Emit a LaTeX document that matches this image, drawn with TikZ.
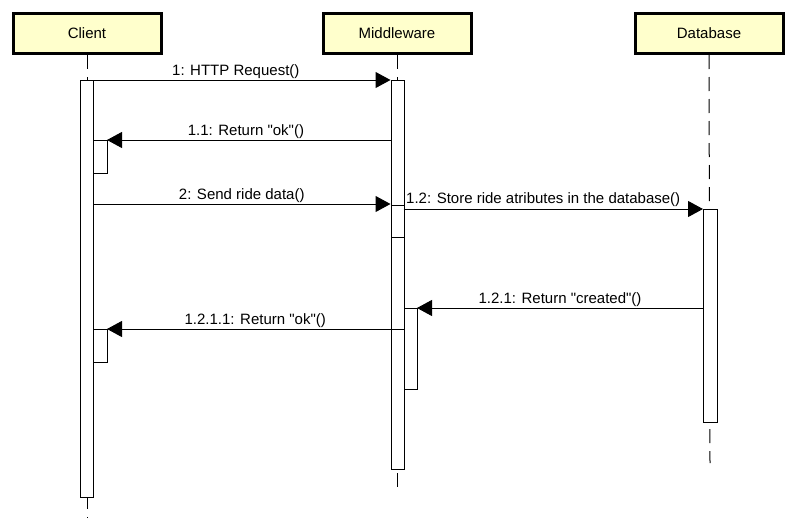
\documentclass[tikz,border=0pt]{standalone}
\usepackage{fontspec}
\setmainfont{Liberation Sans}
\usetikzlibrary{arrows.meta}
\definecolor{hdr}{HTML}{FFFFCC}
\begin{document}
\begin{tikzpicture}[x=1pt,y=-1pt,
  every node/.style={font=\fontsize{15}{17}\selectfont},
  head/.style={draw, line width=3pt, fill=hdr, minimum width=148pt, minimum height=40pt, inner sep=0pt},
  act/.style={draw, line width=1pt, fill=white, inner sep=0pt, anchor=north west},
  life/.style={line width=1pt, dash pattern=on 14pt off 8pt},
  msg/.style={line width=1pt, -{Triangle[length=15pt,width=16pt]}},
  lbl/.style={inner sep=1pt, anchor=south}]
\useasboundingbox (0,0) rectangle (796,530);
% headers
\node[head] (client) at (87,33.5) {Client};
\node[head] (mid) at (397,33.5) {Middleware};
\node[head] (db) at (709,33.5) {Database};
% lifeline ends
\coordinate (cend) at (87,518);
\coordinate (mend) at (397,490);
\coordinate (dend) at (710,463);
\draw[life] (client.south) -- (cend);
\draw[life] (mid.south) -- (mend);
\draw[life] (db.south |- client.south) -- (dend);
% activations
\node[act, minimum width=13pt, minimum height=417pt] (ca) at (80,80) {};
\node[act, minimum width=14pt, minimum height=33pt] (cb1) at (93,140) {};
\node[act, minimum width=14pt, minimum height=33pt] (cb2) at (93,329) {};
\node[act, minimum width=13pt, minimum height=389pt] (ma) at (390.5,80) {};
\node[act, minimum width=13pt, minimum height=32pt] (mb) at (390.5,205) {};
\node[act, minimum width=13pt, minimum height=81pt] (mc) at (403.5,308) {};
\node[act, minimum width=14pt, minimum height=213pt] (da) at (703,209) {};
% message end points
\coordinate (m1s) at (93,80);   \coordinate (m1e) at (390.5,80);
\coordinate (m2s) at (390.5,140); \coordinate (m2e) at (107,140);
\coordinate (m3s) at (93,204);  \coordinate (m3e) at (390.5,204);
\coordinate (m4s) at (403.5,209); \coordinate (m4e) at (703,209);
\coordinate (m5s) at (703,308); \coordinate (m5e) at (417,308);
\coordinate (m6s) at (403.5,329); \coordinate (m6e) at (107,329);
% messages
\draw[msg] (m1s) -- (m1e) node[lbl, pos=0.48] {1: HTTP Request()};
\draw[msg] (m2s) -- (m2e) node[lbl, pos=0.51] {1.1: Return \textquotedbl ok\textquotedbl()};
\draw[msg] (m3s) -- (m3e) node[lbl, pos=0.5] {2: Send ride data()};
\draw[msg] (m4s) -- (m4e);
\node[inner sep=1pt, anchor=south west] (l4) at (405,208) {1.2: Store ride atributes in the database()};
\draw[msg] (m5s) -- (m5e) node[lbl, pos=0.5] {1.2.1: Return \textquotedbl created\textquotedbl()};
\draw[msg] (m6s) -- (m6e) node[lbl, pos=0.5] {1.2.1.1: Return \textquotedbl ok\textquotedbl()};
\end{tikzpicture}
\end{document}
